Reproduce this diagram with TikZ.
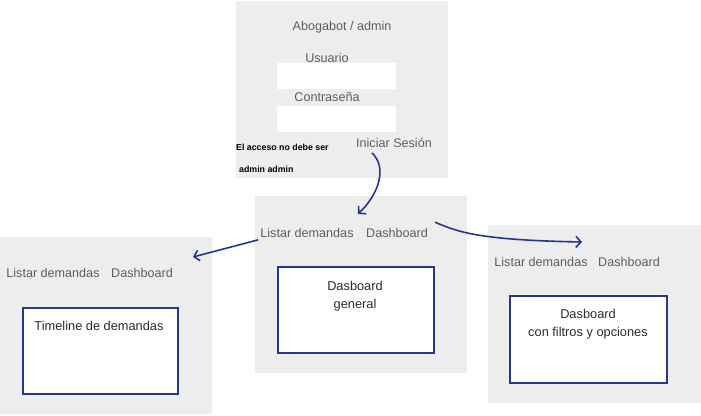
\documentclass[tikz,border=0pt]{standalone}
\usepackage{fontspec}
\setmainfont{Liberation Sans}
\usetikzlibrary{arrows.meta}
\definecolor{panelgray}{HTML}{EDEDED}
\definecolor{linkblue}{HTML}{24378A}
\definecolor{navgray}{HTML}{5E5E5E}
\definecolor{boxtext}{HTML}{2B2B2B}
\tikzset{
    panel/.style={fill=panelgray, inner sep=0pt, anchor=north west},
    field/.style={fill=white, inner sep=0pt, anchor=north west, minimum width=119pt, minimum height=26pt},
    navtext/.style={text=navgray, inner sep=0pt, font=\fontsize{12.6}{14}\selectfont},
    viewbox/.style={draw=linkblue, line width=1.6pt, fill=white, inner sep=0pt, anchor=north west},
    boxlabel/.style={text=boxtext, inner sep=0pt, align=center, font=\fontsize{12.8}{18}\selectfont},
    notetext/.style={text=black, inner sep=0pt, anchor=west, font=\fontsize{8.8}{10}\bfseries\selectfont},
    link/.style={draw=linkblue, line width=1.6pt, -{Straight Barb[length=5pt,width=11pt]}}
}
\begin{document}
\begin{tikzpicture}[x=1pt,y=-1pt]
            \useasboundingbox (0,0) rectangle (701,415);

            \node[panel, minimum width=212pt, minimum height=177pt] (login) at (236,1) {};
            \node[panel, minimum width=212pt, minimum height=177pt] (general) at (255,196) {};
            \node[panel, minimum width=212pt, minimum height=177pt] (timeline) at (0,237) {};
            \node[panel, minimum width=213pt, minimum height=178pt] (filtros) at (488,225) {};

            \node[navtext] (titulo) at (342,27) {Abogabot / admin};
            \node[navtext] (usuario) at (327,58) {Usuario};
            \node[field] (campousuario) at (277,63) {};
            \node[navtext] (clave) at (327,97) {Contraseña};
            \node[field] (campoclave) at (277,106) {};
            \node[navtext] (iniciar) at (394,143) {Iniciar Sesión};
            \node[notetext] (nota1) at (236,147) {El acceso no debe ser};
            \node[notetext] (nota2) at (239,169) {admin admin};

            \node[navtext] (listarB) at (307,233) {Listar demandas};
            \node[navtext] (dashB) at (397,233) {Dashboard};
            \node[viewbox, minimum width=156pt, minimum height=86pt] (boxB) at (277,266) {};
            \node[boxlabel] (labelB) at (355,296) {Dasboard\\general};

            \node[navtext] (listarA) at (53,273) {Listar demandas};
            \node[navtext] (dashA) at (142,273) {Dashboard};
            \node[viewbox, minimum width=155pt, minimum height=86pt] (boxA) at (22,307) {};
            \node[boxlabel] (labelA) at (99,326) {Timeline de demandas};

            \node[navtext] (listarC) at (541,262) {Listar demandas};
            \node[navtext] (dashC) at (629,262) {Dashboard};
            \node[viewbox, minimum width=157pt, minimum height=87pt] (boxC) at (509,295) {};
            \node[boxlabel] (labelC) at (588,324) {Dasboard\\con filtros y opciones};

            \coordinate (entrada) at (358,214);
            \coordinate (haciaA) at (193,257);
            \coordinate (haciaC) at (582,242);

            \draw[link] ([xshift=-22pt,yshift=-5pt]iniciar.south) .. controls (388,168) and (378,195) .. (entrada);
            \draw[link] ([xshift=-2pt,yshift=-2pt]listarB.south west) -- (haciaA);
            \draw[link] ([xshift=7pt,yshift=6pt]dashB.north east) .. controls (458,232) and (478,240) .. (haciaC);
        \end{tikzpicture}
\end{document}
